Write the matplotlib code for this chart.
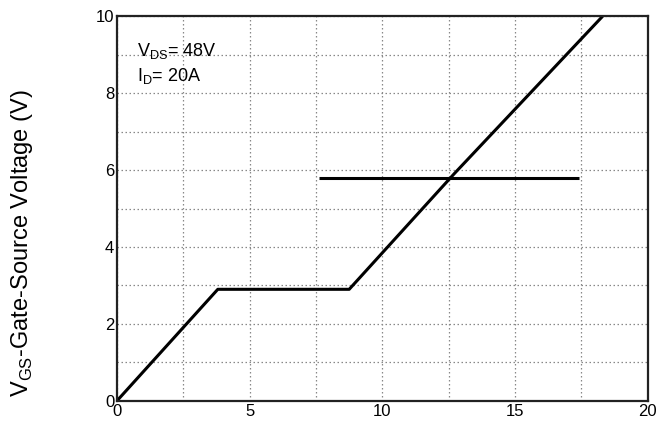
import matplotlib.pyplot as plt

plt.rcParams['font.family'] = ['Liberation Sans', 'DejaVu Sans']

# gate charge curve (nC, V)
qg = [0, 3.8, 8.75, 12.7, 18.3]
vgs = [0, 2.9, 2.9, 5.9, 10.0]

# stray horizontal segment in the scan
seg_x = [7.6, 17.4]
seg_y = [5.8, 5.8]

xticks = [0, 5, 10, 15, 20]
yticks = [0, 2, 4, 6, 8, 10]

fig = plt.figure(figsize=(6.72, 4.26), dpi=100)
ax = fig.add_axes([0.174, 0.059, 0.79, 0.903])

ax.plot(qg, vgs, color='black', lw=2.2, solid_capstyle='butt')
ax.plot(seg_x, seg_y, color='black', lw=2.2, solid_capstyle='butt')

ax.set_xlim(0, 20)
ax.set_ylim(0, 10)
ax.set_xticks([i * 2.5 for i in range(9)], minor=True)
ax.set_yticks(range(11), minor=True)
ax.set_xticks(xticks)
ax.set_yticks(yticks)
ax.set_xticklabels([str(t) for t in xticks])
ax.set_yticklabels([str(t) for t in yticks])
ax.grid(which='both', color='#888888', ls=(0, (1.2, 2.0)), lw=0.9)
ax.tick_params(which='both', length=0, labelsize=12, pad=2)
for s in ax.spines.values():
    s.set_linewidth(1.6)
    s.set_color('#222222')

ax.text(0.75, 9.1, 'V$_{\\mathregular{DS}}$= 48V', fontsize=13, va='center')
ax.text(0.75, 8.45, 'I$_{\\mathregular{D}}$= 20A', fontsize=13, va='center')

fig.text(0.032, 0.43, 'V$_{\\mathregular{GS}}$-Gate-Source Voltage (V)', rotation=90,
         fontsize=17, ha='center', va='center')

fig.savefig('out.png', dpi=100)
